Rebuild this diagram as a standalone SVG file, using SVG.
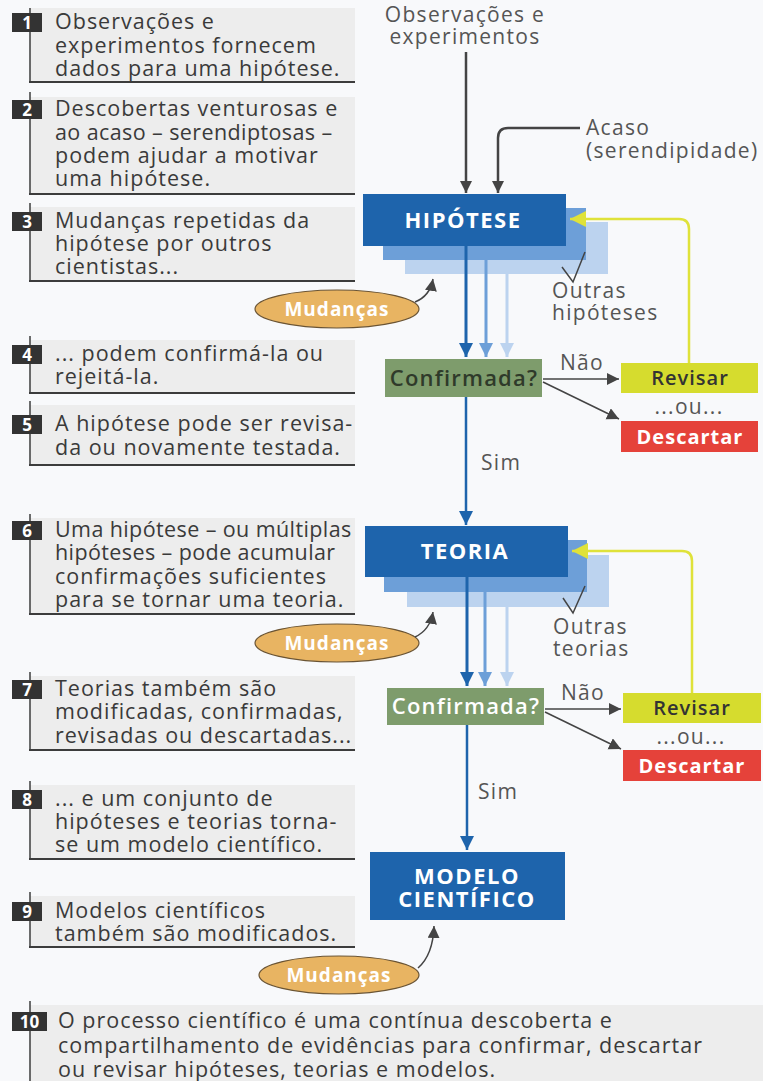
<svg xmlns="http://www.w3.org/2000/svg" width="763" height="1081" viewBox="0 0 763 1081">
<style>
.bg{fill:#ededed}
.rule{stroke:#3c3c3c;stroke-width:2;fill:none}
.vrule{stroke:#3c3c3c;stroke-width:1.5;fill:none}
.badge{fill:#333333}
.num{font-family:"Open Sans","DejaVu Sans",sans-serif;font-weight:bold;font-size:17px;fill:#ffffff;text-anchor:middle}
.t{font-family:"Open Sans","DejaVu Sans",sans-serif;font-size:21.5px;fill:#3a3a3a;letter-spacing:1px}
.dash{letter-spacing:0.4px}
.lab{font-family:"Open Sans","DejaVu Sans",sans-serif;font-size:21px;fill:#555555;letter-spacing:1.3px}
.head{font-family:"Open Sans","DejaVu Sans",sans-serif;font-weight:bold;font-size:22px;fill:#ffffff;text-anchor:middle;letter-spacing:1.5px}
.mid{text-anchor:middle}
.l1{fill:#1e64ac}
.l2{fill:#6d9fd8}
.l3{fill:#bcd3ef}
.conf{fill:#7e9c6c}
.rev{fill:#d6dc2e}
.desc{fill:#e5423a}
.mud{fill:#e8b462;stroke:#6a5434;stroke-width:1.2}
.mudt{font-family:"Open Sans","DejaVu Sans",sans-serif;font-weight:bold;font-size:19px;fill:#ffffff;text-anchor:middle;letter-spacing:1px}
.dct{font-family:"Open Sans","DejaVu Sans",sans-serif;font-weight:bold;font-size:20px;fill:#ffffff;text-anchor:middle;letter-spacing:1px}
.cft{font-family:"Open Sans","DejaVu Sans",sans-serif;font-weight:600;font-size:22px;text-anchor:middle;letter-spacing:1.2px}
.rvt{font-family:"Open Sans","DejaVu Sans",sans-serif;font-weight:600;font-size:20px;fill:#333333;text-anchor:middle;letter-spacing:1px}
.grey{stroke:#444444;stroke-width:2.5;fill:none}
.thin{stroke:#444444;stroke-width:1.5;fill:none}
</style>
<defs>
<marker id="ag" markerUnits="userSpaceOnUse" markerWidth="14" markerHeight="14" refX="12" refY="6" orient="auto"><path d="M0,0 L12,6 L0,12 Z" fill="#444444"/></marker>
<marker id="ab1" markerUnits="userSpaceOnUse" markerWidth="16" markerHeight="16" refX="14" refY="7" orient="auto"><path d="M0,0 L14,7 L0,14 Z" fill="#1e64ac"/></marker>
<marker id="ab2" markerUnits="userSpaceOnUse" markerWidth="16" markerHeight="16" refX="14" refY="7" orient="auto"><path d="M0,0 L14,7 L0,14 Z" fill="#6d9fd8"/></marker>
<marker id="ab3" markerUnits="userSpaceOnUse" markerWidth="16" markerHeight="16" refX="14" refY="7" orient="auto"><path d="M0,0 L14,7 L0,14 Z" fill="#bcd3ef"/></marker>
<marker id="ay" markerUnits="userSpaceOnUse" markerWidth="18" markerHeight="18" refX="16" refY="8" orient="auto"><path d="M0,0 L16,8 L0,16 Z" fill="#dfe23a"/></marker>
</defs>
<rect x="0" y="0" width="763" height="1081" fill="#f8f9fb"/>

<g id="step1">
<rect class="bg" x="30" y="8" width="325" height="74"/>
<line class="vrule" x1="30" y1="8" x2="30" y2="82"/>
<line class="rule" x1="29" y1="82" x2="355" y2="82"/>
<rect class="badge" x="12" y="13" width="30" height="19"/>
<text class="num" x="27" y="29">1</text>
<text class="t" x="55" y="29">Observações e</text>
<text class="t" x="55" y="53">experimentos fornecem</text>
<text class="t" x="55" y="76">dados para uma hipótese.</text>
</g>

<g id="step2">
<rect class="bg" x="30" y="97" width="325" height="97"/>
<line class="vrule" x1="30" y1="92" x2="30" y2="194"/>
<line class="rule" x1="29" y1="194" x2="355" y2="194"/>
<rect class="badge" x="12" y="100" width="30" height="19"/>
<text class="num" x="27" y="116">2</text>
<text class="t" x="55" y="116">Descobertas venturosas e</text>
<text class="t dash" x="55" y="140">ao acaso – serendiptosas –</text>
<text class="t" x="55" y="163">podem ajudar a motivar</text>
<text class="t" x="55" y="186">uma hipótese.</text>
</g>

<g id="step3">
<rect class="bg" x="30" y="207" width="325" height="74"/>
<line class="vrule" x1="30" y1="203" x2="30" y2="281"/>
<line class="rule" x1="29" y1="281" x2="355" y2="281"/>
<rect class="badge" x="12" y="212" width="30" height="19"/>
<text class="num" x="27" y="228">3</text>
<text class="t" x="55" y="228">Mudanças repetidas da</text>
<text class="t" x="55" y="251">hipótese por outros</text>
<text class="t" x="55" y="274">cientistas...</text>
</g>

<g id="step4">
<rect class="bg" x="30" y="340" width="325" height="53"/>
<line class="vrule" x1="30" y1="336" x2="30" y2="393"/>
<line class="rule" x1="29" y1="393" x2="355" y2="393"/>
<rect class="badge" x="12" y="345" width="30" height="19"/>
<text class="num" x="27" y="361">4</text>
<text class="t" x="55" y="361">... podem confirmá-la ou</text>
<text class="t" x="55" y="384">rejeitá-la.</text>
</g>

<g id="step5">
<rect class="bg" x="30" y="405" width="325" height="60"/>
<line class="vrule" x1="30" y1="401" x2="30" y2="465"/>
<line class="rule" x1="29" y1="465" x2="355" y2="465"/>
<rect class="badge" x="12" y="415" width="30" height="19"/>
<text class="num" x="27" y="431">5</text>
<text class="t" x="55" y="431">A hipótese pode ser revisa-</text>
<text class="t" x="55" y="455">da ou novamente testada.</text>
</g>

<g id="step6">
<rect class="bg" x="30" y="518" width="325" height="96"/>
<line class="vrule" x1="30" y1="514" x2="30" y2="614"/>
<line class="rule" x1="29" y1="614" x2="355" y2="614"/>
<rect class="badge" x="12" y="521" width="30" height="19"/>
<text class="num" x="27" y="537">6</text>
<text class="t dash" x="55" y="537">Uma hipótese – ou múltiplas</text>
<text class="t dash" x="55" y="560">hipóteses – pode acumular</text>
<text class="t" x="55" y="584">confirmações suficientes</text>
<text class="t" x="55" y="607">para se tornar uma teoria.</text>
</g>

<g id="step7">
<rect class="bg" x="30" y="676" width="325" height="74"/>
<line class="vrule" x1="30" y1="672" x2="30" y2="750"/>
<line class="rule" x1="29" y1="750" x2="355" y2="750"/>
<rect class="badge" x="12" y="680" width="30" height="19"/>
<text class="num" x="27" y="696">7</text>
<text class="t" x="55" y="696">Teorias também são</text>
<text class="t" x="55" y="719">modificadas, confirmadas,</text>
<text class="t" x="55" y="743">revisadas ou descartadas...</text>
</g>

<g id="step8">
<rect class="bg" x="30" y="785" width="325" height="74"/>
<line class="vrule" x1="30" y1="781" x2="30" y2="859"/>
<line class="rule" x1="29" y1="859" x2="355" y2="859"/>
<rect class="badge" x="12" y="790" width="30" height="19"/>
<text class="num" x="27" y="806">8</text>
<text class="t" x="55" y="806">... e um conjunto de</text>
<text class="t" x="55" y="829">hipóteses e teorias torna-</text>
<text class="t" x="55" y="852">se um modelo científico.</text>
</g>

<g id="step9">
<rect class="bg" x="30" y="896" width="325" height="51"/>
<line class="vrule" x1="30" y1="892" x2="30" y2="947"/>
<line class="rule" x1="29" y1="947" x2="355" y2="947"/>
<rect class="badge" x="12" y="902" width="30" height="19"/>
<text class="num" x="27" y="918">9</text>
<text class="t" x="55" y="918">Modelos científicos</text>
<text class="t" x="55" y="941">também são modificados.</text>
</g>

<g id="step10">
<rect class="bg" x="30" y="1005" width="733" height="76"/>
<line class="vrule" x1="30" y1="1001" x2="30" y2="1081"/>
<rect class="badge" x="12" y="1012" width="35" height="19"/>
<text class="num" x="29.5" y="1028">10</text>
<text class="t" x="58" y="1028">O processo científico é uma contínua descoberta e</text>
<text class="t" x="58" y="1053">compartilhamento de evidências para confirmar, descartar</text>
<text class="t" x="58" y="1077">ou revisar hipóteses, teorias e modelos.</text>
</g>

<g id="labels">
<text class="lab mid" x="465" y="22">Observações e</text>
<text class="lab mid" x="465" y="44">experimentos</text>
<text class="lab" x="586" y="135">Acaso</text>
<text class="lab" x="586" y="158">(serendipidade)</text>
<text class="lab" x="552" y="298">Outras</text>
<text class="lab" x="552" y="320">hipóteses</text>
<text class="lab" x="560" y="370">Não</text>
<text class="lab mid" x="689" y="414">...ou...</text>
<text class="lab" x="481" y="470">Sim</text>
<text class="lab" x="553" y="634">Outras</text>
<text class="lab" x="553" y="656">teorias</text>
<text class="lab" x="561" y="700">Não</text>
<text class="lab mid" x="691" y="744">...ou...</text>
<text class="lab" x="478" y="799">Sim</text>
</g>

<g id="hipotese">
<rect class="l3" x="405" y="222" width="203" height="52"/>
<rect class="l2" x="383" y="208" width="203" height="52"/>
<rect class="l1" x="363" y="194" width="203" height="52"/>
<text class="head" x="463" y="228">HIPÓTESE</text>
</g>

<g id="confirmada1">
<rect class="conf" x="385" y="359" width="157" height="38"/>
<text class="cft" x="464" y="386" fill="#2f3a2a">Confirmada?</text>
</g>

<g id="revisar1">
<rect class="rev" x="621" y="363" width="137" height="30"/>
<text class="rvt" x="690" y="385">Revisar</text>
</g>

<g id="descartar1">
<rect class="desc" x="621" y="421" width="137" height="31"/>
<text class="dct" x="690" y="444">Descartar</text>
</g>

<g id="mudancas1">
<ellipse class="mud" cx="337" cy="309" rx="82" ry="19"/>
<text class="mudt" x="337" y="316">Mudanças</text>
</g>

<g id="teoria">
<rect class="l3" x="407" y="555" width="202" height="52"/>
<rect class="l2" x="384" y="540" width="203" height="52"/>
<rect class="l1" x="365" y="526" width="203" height="51"/>
<text class="head" x="465" y="559">TEORIA</text>
</g>

<g id="confirmada2">
<rect class="conf" x="387" y="688" width="157" height="37"/>
<text class="cft" x="466" y="714" fill="#ffffff">Confirmada?</text>
</g>

<g id="revisar2">
<rect class="rev" x="623" y="693" width="138" height="30"/>
<text class="rvt" x="692" y="715">Revisar</text>
</g>

<g id="descartar2">
<rect class="desc" x="623" y="750" width="138" height="31"/>
<text class="dct" x="692" y="773">Descartar</text>
</g>

<g id="mudancas2">
<ellipse class="mud" cx="337" cy="643" rx="82" ry="19"/>
<text class="mudt" x="337" y="650">Mudanças</text>
</g>

<g id="modelo">
<rect class="l1" x="370" y="852" width="195" height="68"/>
<text class="head" x="467" y="884">MODELO</text>
<text class="head" x="467" y="907">CIENTÍFICO</text>
</g>

<g id="mudancas3">
<ellipse class="mud" cx="339" cy="975" rx="80" ry="19"/>
<text class="mudt" x="339" y="982">Mudanças</text>
</g>

<g id="connectors">
<line class="grey" x1="466" y1="52" x2="466" y2="193" marker-end="url(#ag)"/>
<path class="grey" d="M580 128 H508 Q498 128 498 138 V193" marker-end="url(#ag)"/>
<line x1="466" y1="246" x2="466" y2="357" stroke="#1e64ac" stroke-width="3" marker-end="url(#ab1)"/>
<line x1="486" y1="260" x2="486" y2="357" stroke="#6d9fd8" stroke-width="3" marker-end="url(#ab2)"/>
<line x1="507" y1="274" x2="507" y2="357" stroke="#bcd3ef" stroke-width="3" marker-end="url(#ab3)"/>
<polyline class="thin" points="562,267 573,282 585,252"/>
<path d="M415 302 Q430 296 433 279" class="thin" marker-end="url(#ag)"/>
<line class="thin" x1="543" y1="379" x2="619" y2="379" marker-end="url(#ag)"/>
<line class="thin" x1="543" y1="382" x2="619" y2="419" marker-end="url(#ag)"/>
<path d="M689 363 V229 Q689 219 679 219 H570" fill="none" stroke="#dfe23a" stroke-width="2.5" marker-end="url(#ay)"/>
<line x1="466" y1="397" x2="466" y2="525" stroke="#1e64ac" stroke-width="2.5" marker-end="url(#ab1)"/>

<line x1="467" y1="577" x2="467" y2="686" stroke="#1e64ac" stroke-width="3" marker-end="url(#ab1)"/>
<line x1="485" y1="592" x2="485" y2="686" stroke="#6d9fd8" stroke-width="3" marker-end="url(#ab2)"/>
<line x1="507" y1="607" x2="507" y2="686" stroke="#bcd3ef" stroke-width="3" marker-end="url(#ab3)"/>
<polyline class="thin" points="563,598 573,613 585,586"/>
<path d="M415 637 Q430 630 433 612" class="thin" marker-end="url(#ag)"/>
<line class="thin" x1="545" y1="709" x2="621" y2="709" marker-end="url(#ag)"/>
<line class="thin" x1="545" y1="712" x2="621" y2="749" marker-end="url(#ag)"/>
<path d="M692 693 V561 Q692 551 682 551 H572" fill="none" stroke="#dfe23a" stroke-width="2.5" marker-end="url(#ay)"/>
<line x1="467" y1="725" x2="467" y2="850" stroke="#1e64ac" stroke-width="2.5" marker-end="url(#ab1)"/>

<path d="M418 968 Q433 955 434 926" class="thin" marker-end="url(#ag)"/>
</g>
</svg>
